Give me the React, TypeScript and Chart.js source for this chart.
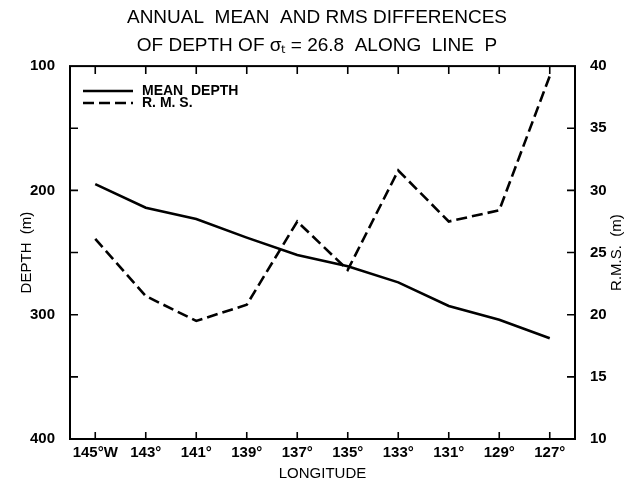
import React, { useEffect, useRef } from "react";
import { Chart, registerables } from "chart.js";

Chart.register(...registerables);

const longitudeLabels = ["145°W", "143°", "141°", "139°", "137°", "135°", "133°", "131°", "129°", "127°"];
const meanDepth = [195, 214, 223, 238, 252, 261, 274, 293, 304, 319];
const rmsValues = [26.1, 21.5, 19.5, 20.8, 27.5, 23.6, 31.6, 27.5, 28.4, 39.2];
const depthMinorTicks = [150, 200, 250, 300, 350];
const rmsMinorTicks = [15, 20, 25, 30, 35];
const titleLines = ["ANNUAL  MEAN  AND RMS DIFFERENCES", "OF DEPTH OF σₜ = 26.8  ALONG  LINE  P"];
const legendItems = [
  { label: "MEAN  DEPTH", dash: [] as number[] },
  { label: "R. M. S.", dash: [11, 5] },
];

const FONT = "'Liberation Sans', Arial, sans-serif";

const framePlugin = {
  id: "frameAndTicks",
  afterDraw(chart: any) {
    const { ctx, chartArea } = chart;
    const { left, right, top, bottom } = chartArea;
    const x = chart.scales.x;
    const yl = chart.scales.y;
    const yr = chart.scales.y1;
    ctx.save();
    ctx.strokeStyle = "#000";
    ctx.lineWidth = 2;
    ctx.strokeRect(left, top, right - left, bottom - top);
    ctx.lineWidth = 1.6;
    ctx.beginPath();
    x.ticks.forEach((_: any, i: number) => {
      const px = x.getPixelForTick(i);
      ctx.moveTo(px, bottom);
      ctx.lineTo(px, bottom - 7);
      ctx.moveTo(px, top);
      ctx.lineTo(px, top + 8);
    });
    depthMinorTicks.forEach((v) => {
      const py = yl.getPixelForValue(v);
      ctx.moveTo(left, py);
      ctx.lineTo(left + 8, py);
    });
    rmsMinorTicks.forEach((v) => {
      const py = yr.getPixelForValue(v);
      ctx.moveTo(right, py);
      ctx.lineTo(right - 8, py);
    });
    ctx.stroke();

    // legend
    ctx.fillStyle = "#000";
    ctx.font = `bold 14px ${FONT}`;
    ctx.textBaseline = "middle";
    ctx.textAlign = "left";
    legendItems.forEach((item, i) => {
      const ly = top + 25 + i * 12;
      ctx.beginPath();
      ctx.lineWidth = 2.5;
      ctx.setLineDash(item.dash);
      ctx.moveTo(left + 13, ly);
      ctx.lineTo(left + 63, ly);
      ctx.stroke();
      ctx.setLineDash([]);
      ctx.fillText(item.label, left + 72, ly);
    });

    // right axis title (reads bottom to top)
    ctx.save();
    ctx.translate(617, (top + bottom) / 2);
    ctx.rotate(-Math.PI / 2);
    ctx.textAlign = "center";
    ctx.font = `15px ${FONT}`;
    ctx.fillText("R.M.S.  (m)", 0, 0);
    ctx.restore();
    ctx.restore();
  },
};

export default function App() {
  const ref = useRef<HTMLCanvasElement | null>(null);
  useEffect(() => {
    document.body.style.margin = "0";
    const canvas = ref.current!;
    const chart = new Chart(canvas, {
      type: "line",
      data: {
        labels: longitudeLabels,
        datasets: [
          {
            label: "MEAN DEPTH",
            data: meanDepth,
            yAxisID: "y",
            borderColor: "#000",
            borderWidth: 2.6,
            pointRadius: 0,
            tension: 0,
            fill: false,
          },
          {
            label: "R.M.S.",
            data: rmsValues,
            yAxisID: "y1",
            borderColor: "#000",
            borderWidth: 2.6,
            borderDash: [11, 5],
            pointRadius: 0,
            tension: 0,
            fill: false,
          },
        ],
      },
      options: {
        responsive: false,
        animation: false,
        layout: { padding: { left: 0, right: 0, top: 0, bottom: 0 } },
        plugins: {
          legend: { display: false },
          tooltip: { enabled: false },
          title: {
            display: true,
            text: titleLines,
            color: "#000",
            font: { family: FONT, size: 19, weight: "normal", lineHeight: 1.45 },
            padding: { top: 4, bottom: 7 },
          },
        },
        scales: {
          x: {
            type: "category",
            offset: true,
            grid: { display: false },
            border: { display: false },
            ticks: {
              color: "#000",
              font: { family: FONT, size: 15, weight: "bold" },
              autoSkip: false,
              maxRotation: 0,
              padding: -3,
            },
            title: {
              display: true,
              text: "LONGITUDE",
              color: "#000",
              font: { family: FONT, size: 15, lineHeight: 1 },
              padding: { top: -1, bottom: 0 },
            },
            afterFit(scale: any) {
              scale.height = 42;
            },
          },
          y: {
            type: "linear",
            position: "left",
            reverse: true,
            min: 100,
            max: 400,
            grid: { display: false },
            border: { display: false },
            ticks: {
              stepSize: 100,
              color: "#000",
              font: { family: FONT, size: 15, weight: "bold" },
              padding: 7,
            },
            title: {
              display: true,
              text: "DEPTH  (m)",
              color: "#000",
              font: { family: FONT, size: 15, lineHeight: 1.2 },
              padding: { top: 18, bottom: 0 },
            },
            afterFit(scale: any) {
              scale.width = 70;
            },
          },
          y1: {
            type: "linear",
            position: "right",
            min: 10,
            max: 40,
            grid: { display: false },
            border: { display: false },
            ticks: {
              stepSize: 5,
              color: "#000",
              font: { family: FONT, size: 15, weight: "bold" },
              padding: 7,
            },
            afterFit(scale: any) {
              scale.width = 59;
            },
          },
        },
      },
      plugins: [framePlugin],
    } as any);
    return () => chart.destroy();
  }, []);
  return <canvas ref={ref} width={634} height={481} style={{ display: "block" }} />;
}
